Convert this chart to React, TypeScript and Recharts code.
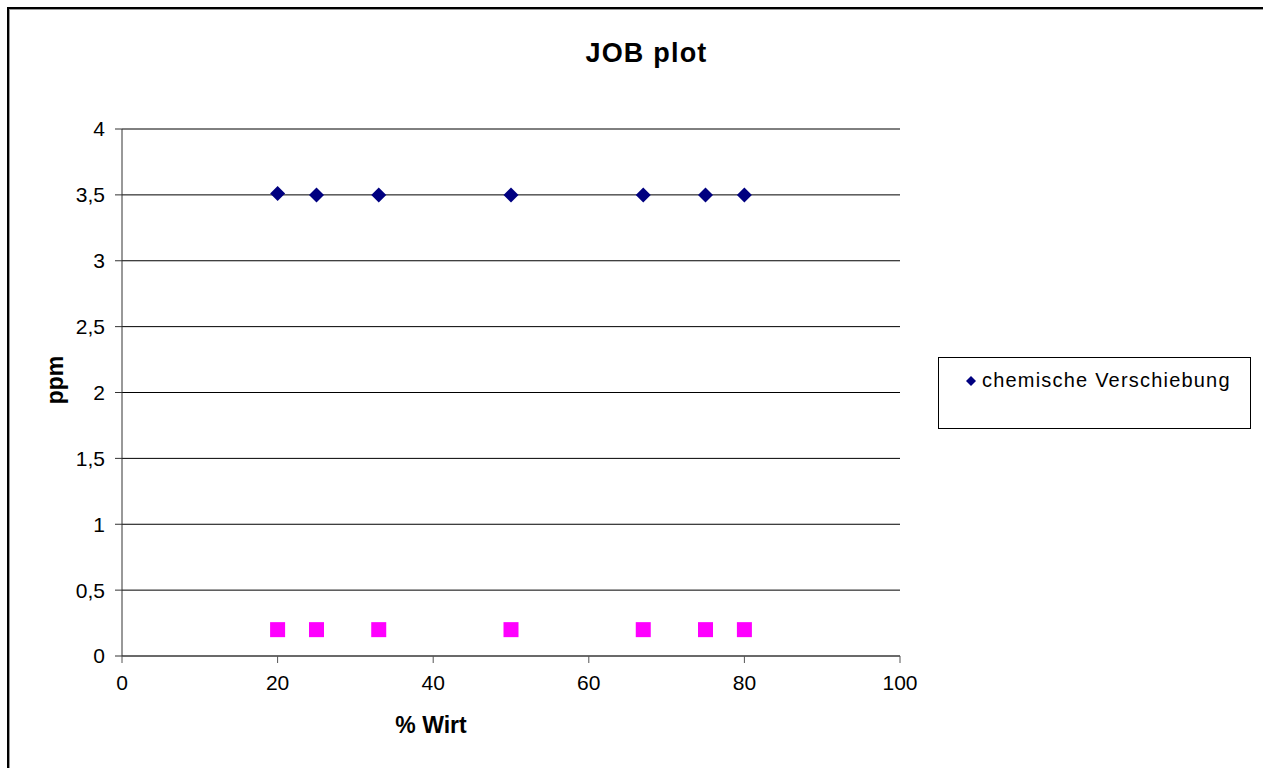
import {
  ScatterChart,
  Scatter,
  XAxis,
  YAxis,
  CartesianGrid,
  Label,
} from 'recharts';

const wirtPercent = [20, 25, 33, 50, 67, 75, 80];
const shiftPpm = [3.51, 3.5, 3.5, 3.5, 3.5, 3.5, 3.5];
const baselinePpm = [0.2, 0.2, 0.2, 0.2, 0.2, 0.2, 0.2];
const xTicks = [0, 20, 40, 60, 80, 100];
const yTicks = [0, 0.5, 1, 1.5, 2, 2.5, 3, 3.5, 4];

const shiftData = wirtPercent.map((x, i) => ({ x, y: shiftPpm[i] }));
const baselineData = wirtPercent.map((x, i) => ({ x, y: baselinePpm[i] }));

const FONT = '"Liberation Sans", Arial, sans-serif';

const Diamond = (props: any) => {
  const { cx, cy } = props;
  const r = 7.5;
  return (
    <polygon
      points={`${cx},${cy - r} ${cx + r},${cy} ${cx},${cy + r} ${cx - r},${cy}`}
      fill="#000080"
    />
  );
};

const Square = (props: any) => {
  const { cx, cy } = props;
  return <rect x={cx - 7.5} y={cy - 7.5} width={15} height={15} fill="#FF00FF" />;
};

const deComma = (v: number) => String(v).replace('.', ',');

function LegendBox() {
  return (
    <div
      style={{
        position: 'absolute',
        left: 938,
        top: 357,
        width: 311,
        height: 70,
        border: '1px solid #000',
        fontFamily: FONT,
        fontSize: 20,
        letterSpacing: 1.2,
        color: '#000',
        background: '#fff',
      }}
    >
      <div style={{ display: 'flex', alignItems: 'center', marginTop: 11, marginLeft: 26 }}>
        <svg width={12} height={12} style={{ marginRight: 5 }}>
          <polygon points="6,1 11,6 6,11 1,6" fill="#000080" />
        </svg>
        <span>chemische Verschiebung</span>
      </div>
    </div>
  );
}

export default function App() {
  return (
    <div
      style={{
        position: 'fixed',
        left: 0,
        top: 0,
        width: 1263,
        height: 768,
        overflow: 'hidden',
        background: '#fff',
      }}
    >
      <div
        style={{
          position: 'absolute',
          left: 7,
          top: 7,
          width: 1300,
          height: 800,
          border: '2px solid #000',
          boxShadow: 'inset 1px 1px 0 #999',
        }}
      />
      <div
        style={{
          position: 'absolute',
          left: 0,
          width: 1293,
          top: 38,
          textAlign: 'center',
          fontFamily: FONT,
          fontWeight: 'bold',
          fontSize: 27,
          letterSpacing: 1.2,
        }}
      >
        JOB plot
      </div>
      <div style={{ position: 'absolute', left: 0, top: 0 }}>
        <ScatterChart
          width={1263}
          height={768}
          margin={{ top: 129, right: 363, bottom: 72, left: 62 }}
        >
          <CartesianGrid horizontal vertical={false} stroke="#000" />
          <XAxis
            type="number"
            dataKey="x"
            domain={[0, 100]}
            ticks={xTicks}
            interval={0}
            height={40}
            stroke="#555"
            tickSize={7}
            tick={{ fontSize: 21, fill: '#000', fontFamily: FONT }}
            tickMargin={12}
          >
            <Label
              content={() => (
                <text
                  x={431}
                  y={733}
                  textAnchor="middle"
                  fontFamily={FONT}
                  fontWeight="bold"
                  fontSize={23}
                  fill="#000"
                >
                  % Wirt
                </text>
              )}
            />
          </XAxis>
          <YAxis
            type="number"
            dataKey="y"
            domain={[0, 4]}
            ticks={yTicks}
            interval={0}
            width={60}
            stroke="#333"
            tickSize={7}
            tickMargin={10}
            tickFormatter={deComma}
            tick={{ fontSize: 21, fill: '#000', fontFamily: FONT }}
          >
            <Label
              content={() => (
                <text
                  x={63}
                  y={380}
                  transform="rotate(-90 63 380)"
                  textAnchor="middle"
                  fontFamily={FONT}
                  fontWeight="bold"
                  fontSize={23}
                  fill="#000"
                >
                  ppm
                </text>
              )}
            />
          </YAxis>
          <Scatter
            name="chemische Verschiebung"
            data={shiftData}
            shape={Diamond}
            isAnimationActive={false}
          />
          <Scatter
            name="Basis"
            data={baselineData}
            shape={Square}
            legendType="none"
            isAnimationActive={false}
          />
        </ScatterChart>
      </div>
      <LegendBox />
    </div>
  );
}
